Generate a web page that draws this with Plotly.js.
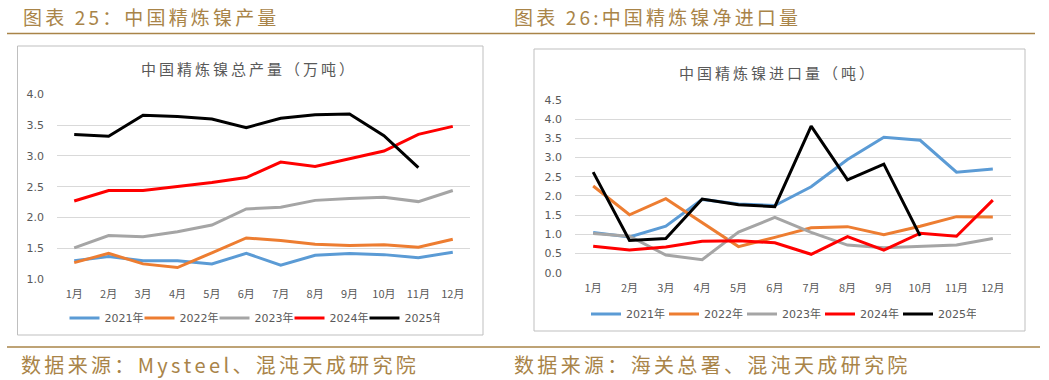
<!DOCTYPE html>
<html><head><meta charset="utf-8">
<script src="https://cdn.plot.ly/plotly-3.0.1.min.js"></script>
<style>html,body{margin:0;padding:0;background:#fff;}#c{width:1049px;height:380px;}</style>
</head><body><div id="c"></div>
<script>
const months = ['1月','2月','3月','4月','5月','6月','7月','8月','9月','10月','11月','12月'];
const seriesNames = ['2021年','2022年','2023年','2024年','2025年'];
const colors = ['#5b9bd5','#ed7d31','#a5a5a5','#ff0000','#000000'];

// 中国精炼镍总产量（万吨）
const prod2021 = [1.30,1.37,1.30,1.30,1.25,1.42,1.23,1.39,1.42,1.40,1.35,1.44];
const prod2022 = [1.27,1.42,1.25,1.19,1.43,1.67,1.63,1.57,1.55,1.56,1.52,1.65];
const prod2023 = [1.51,1.71,1.69,1.77,1.88,2.14,2.17,2.28,2.31,2.33,2.26,2.44];
const prod2024 = [2.27,2.44,2.44,2.50,2.57,2.65,2.90,2.83,2.95,3.08,3.35,3.48];
const prod2025 = [3.35,3.32,3.66,3.64,3.60,3.46,3.61,3.67,3.68,3.33,2.81];

// 中国精炼镍进口量（吨）
const imp2021 = [1.05,0.93,1.21,1.91,1.79,1.75,2.24,2.95,3.53,3.45,2.62,2.70];
const imp2022 = [2.26,1.51,1.93,1.30,0.68,0.92,1.17,1.20,0.99,1.21,1.46,1.45];
const imp2023 = [1.02,0.95,0.46,0.34,1.06,1.44,1.05,0.72,0.65,0.68,0.72,0.89];
const imp2024 = [0.69,0.59,0.67,0.82,0.83,0.78,0.48,0.94,0.59,1.03,0.95,1.89];
const imp2025 = [2.62,0.84,0.89,1.92,1.77,1.72,3.82,2.42,2.83,0.96];

const W = 1049, H = 380;
const px = x => x / W;
const py = y => 1 - y / H;
const spaced = (s, gap) => Array.from(s).join(gap);

const prodData = [prod2021, prod2022, prod2023, prod2024, prod2025];
const impData = [imp2021, imp2022, imp2023, imp2024, imp2025];
const traces = [];
prodData.forEach((d, i) => traces.push({
  type:'scatter', mode:'lines', x: months.slice(0, d.length), y: d, name: seriesNames[i],
  line:{color: colors[i], width:3}, xaxis:'x', yaxis:'y', legend:'legend', hoverinfo:'skip'
}));
impData.forEach((d, i) => traces.push({
  type:'scatter', mode:'lines', x: months.slice(0, d.length), y: d, name: seriesNames[i],
  line:{color: colors[i], width:3}, xaxis:'x2', yaxis:'y2', legend:'legend2', hoverinfo:'skip'
}));

const tickFont = {family:'DejaVu Sans, Noto Sans CJK SC', size:11, color:'#595959'};
const xCommon = {type:'category', categoryarray: months, range:[-0.5,11.5], showgrid:false, zeroline:false,
  showline:false, ticks:'', ticklabelstandoff:7, tickfont:{family:'Noto Sans CJK SC', size:11, color:'#595959'}, fixedrange:true};
const yCommon = {showgrid:true, gridcolor:'#d9d9d9', gridwidth:1, zeroline:false, showline:false, ticks:'',
  ticklabelstandoff:12, tickformat:'.1f', tickfont: tickFont, fixedrange:true};

const gold = '#a98448';
const legFont = {family:'DejaVu Sans, Noto Sans CJK SC', size:11, color:'#595959'};
const layout = {
  width:W, height:H, margin:{l:0,r:0,t:0,b:0, autoexpand:false}, paper_bgcolor:'#fff', plot_bgcolor:'#fff',
  xaxis: Object.assign({}, xCommon, {domain:[px(57), px(470)], anchor:'y', automargin:false}),
  yaxis: Object.assign({}, yCommon, {domain:[py(279.3), py(94.3)], range:[1,4], dtick:0.5, anchor:'x', automargin:false}),
  xaxis2: Object.assign({}, xCommon, {domain:[px(575), px(1011)], anchor:'y2', automargin:false}),
  yaxis2: Object.assign({}, yCommon, {domain:[py(272.7), py(100)], range:[0,4.5], dtick:0.5, anchor:'x2', automargin:false}),
  legend: {orientation:'h', x:px(252), xanchor:'center', y:py(318), yanchor:'middle',
    font:legFont, bgcolor:'rgba(0,0,0,0)', entrywidth:30, entrywidthmode:'pixels', tracegroupgap:0},
  legend2: {orientation:'h', x:px(781), xanchor:'center', y:py(314), yanchor:'middle',
    font:legFont, bgcolor:'rgba(0,0,0,0)', entrywidth:33, entrywidthmode:'pixels', tracegroupgap:0},
  shapes: [
    {type:'rect', xref:'paper', yref:'paper', x0:px(17.5), x1:px(483), y0:py(335), y1:py(46), line:{color:'#bfbfbf', width:1}},
    {type:'rect', xref:'paper', yref:'paper', x0:px(534), x1:px(1025), y0:py(331), y1:py(49), line:{color:'#bfbfbf', width:1}},
    {type:'line', xref:'paper', yref:'paper', x0:px(7), x1:px(1035), y0:py(33.5), y1:py(33.5), line:{color:gold, width:1.5}},
    {type:'line', xref:'paper', yref:'paper', x0:px(7), x1:px(1040), y0:py(347), y1:py(347), line:{color:gold, width:1.5}}
  ],
  annotations: [
    {xref:'paper', yref:'paper', x:px(21), y:py(16), xanchor:'left', yanchor:'middle', showarrow:false,
      text:spaced('图表 25：中国精炼镍产量','\u2006'), font:{family:'Noto Sans CJK SC', size:19, color:gold}},
    {xref:'paper', yref:'paper', x:px(512), y:py(16), xanchor:'left', yanchor:'middle', showarrow:false,
      text:spaced('图表 26:中国精炼镍净进口量','\u2006'), font:{family:'Noto Sans CJK SC', size:19, color:gold}},
    {xref:'paper', yref:'paper', x:px(247), y:py(68), xanchor:'center', yanchor:'middle', showarrow:false,
      text:spaced('中国精炼镍总产量（万吨）','\u2009'), font:{family:'Noto Sans CJK SC', size:15, color:'#595959'}},
    {xref:'paper', yref:'paper', x:px(776), y:py(72), xanchor:'center', yanchor:'middle', showarrow:false,
      text:spaced('中国精炼镍进口量（吨）','\u2009'), font:{family:'Noto Sans CJK SC', size:15, color:'#595959'}},
    {xref:'paper', yref:'paper', x:px(19), y:py(364), xanchor:'left', yanchor:'middle', showarrow:false,
      text:spaced('数据来源：Mysteel、混沌天成研究院','\u2006'), font:{family:'Noto Sans CJK SC', size:20, color:gold}},
    {xref:'paper', yref:'paper', x:px(512), y:py(364), xanchor:'left', yanchor:'middle', showarrow:false,
      text:spaced('数据来源：海关总署、混沌天成研究院','\u2006'), font:{family:'Noto Sans CJK SC', size:20, color:gold}}
  ],
  showlegend:true
};
Plotly.newPlot('c', traces, layout, {displayModeBar:false, staticPlot:true});
</script></body></html>
